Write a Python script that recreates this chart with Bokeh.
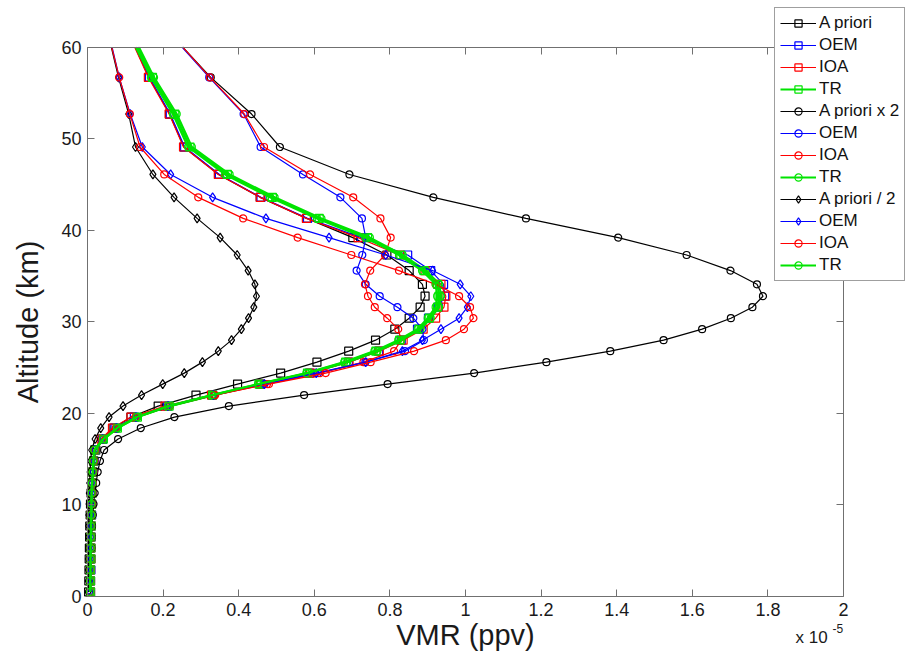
from bokeh.plotting import figure
from bokeh.models import Range1d, FixedTicker, LinearAxis, Legend, LegendItem, Label
from bokeh.embed import file_html
from bokeh.resources import INLINE

# Altitude grid (km); the last level is where the curves leave the top of the box
alt_km = [0.5, 1.7, 2.9, 4.1, 5.3, 6.5, 7.7, 8.9, 10.1, 11.3, 12.4, 13.6, 14.8, 16.0,
          17.2, 18.4, 19.6, 20.8, 22.0, 23.2, 24.4, 25.6, 26.8, 28.0, 29.2, 30.4, 31.6,
          32.8, 34.1, 35.6, 37.3, 39.2, 41.3, 43.6, 46.1, 49.1, 52.7, 56.7, 60.0]

# VMR profiles in units of 1e-5 ppv
apriori = [0.003, 0.0035, 0.004, 0.0045, 0.005, 0.0055, 0.006, 0.007, 0.008, 0.0095, 0.0115, 0.0135, 0.0165, 0.022,
           0.040, 0.070, 0.115, 0.187, 0.287, 0.397, 0.511, 0.607, 0.691, 0.762, 0.813, 0.851, 0.880,
           0.893, 0.886, 0.851, 0.792, 0.702, 0.580, 0.457, 0.347, 0.255, 0.217, 0.163, 0.126]
oem_1 = [0.008, 0.008, 0.009, 0.009, 0.009, 0.010, 0.010, 0.011, 0.011, 0.012, 0.013, 0.015, 0.017, 0.020,
         0.040, 0.073, 0.124, 0.212, 0.330, 0.457, 0.587, 0.690, 0.770, 0.830, 0.873, 0.902, 0.928,
         0.945, 0.942, 0.908, 0.847, 0.725, 0.582, 0.459, 0.349, 0.257, 0.219, 0.164, 0.127]
ioa_1 = [0.008, 0.008, 0.008, 0.009, 0.009, 0.009, 0.010, 0.010, 0.011, 0.012, 0.013, 0.014, 0.016, 0.019,
         0.036, 0.066, 0.115, 0.205, 0.328, 0.458, 0.590, 0.692, 0.772, 0.835, 0.888, 0.921, 0.943,
         0.948, 0.935, 0.893, 0.826, 0.716, 0.579, 0.457, 0.346, 0.254, 0.216, 0.161, 0.125]
tr_1 = [0.008, 0.008, 0.008, 0.009, 0.009, 0.009, 0.010, 0.010, 0.011, 0.012, 0.013, 0.014, 0.016, 0.019,
        0.042, 0.079, 0.132, 0.216, 0.331, 0.454, 0.582, 0.683, 0.763, 0.826, 0.877, 0.904, 0.926,
        0.930, 0.926, 0.890, 0.829, 0.741, 0.613, 0.489, 0.370, 0.271, 0.231, 0.172, 0.132]

apriori_x2 = [0.006, 0.007, 0.008, 0.009, 0.010, 0.011, 0.012, 0.014, 0.016, 0.019, 0.023, 0.027, 0.033, 0.044,
              0.081, 0.141, 0.230, 0.374, 0.573, 0.794, 1.023, 1.214, 1.383, 1.524, 1.626, 1.702, 1.759,
              1.787, 1.771, 1.701, 1.585, 1.404, 1.160, 0.915, 0.693, 0.509, 0.434, 0.326, 0.252]
oem_2 = [0.008, 0.008, 0.009, 0.009, 0.009, 0.010, 0.010, 0.011, 0.012, 0.013, 0.014, 0.016, 0.018, 0.021,
         0.042, 0.078, 0.130, 0.215, 0.335, 0.468, 0.610, 0.735, 0.840, 0.890, 0.886, 0.862, 0.820,
         0.773, 0.736, 0.712, 0.727, 0.736, 0.726, 0.669, 0.570, 0.458, 0.413, 0.322, 0.250]
ioa_2 = [0.008, 0.008, 0.009, 0.009, 0.009, 0.010, 0.010, 0.011, 0.012, 0.013, 0.014, 0.016, 0.018, 0.021,
         0.041, 0.077, 0.130, 0.218, 0.338, 0.475, 0.615, 0.730, 0.811, 0.830, 0.822, 0.793, 0.760,
         0.742, 0.734, 0.748, 0.787, 0.802, 0.775, 0.703, 0.589, 0.467, 0.415, 0.324, 0.252]
tr_2 = [0.008, 0.008, 0.009, 0.009, 0.009, 0.010, 0.010, 0.011, 0.011, 0.012, 0.013, 0.015, 0.017, 0.020,
        0.043, 0.080, 0.133, 0.218, 0.333, 0.457, 0.585, 0.687, 0.767, 0.830, 0.881, 0.908, 0.930,
        0.935, 0.931, 0.895, 0.834, 0.747, 0.619, 0.495, 0.376, 0.276, 0.236, 0.176, 0.136]

apriori_half = [0.0015, 0.0018, 0.002, 0.0023, 0.0025, 0.0028, 0.003, 0.0035, 0.004, 0.0048, 0.0058, 0.0068, 0.0083, 0.011,
                0.020, 0.035, 0.057, 0.094, 0.143, 0.199, 0.256, 0.304, 0.346, 0.381, 0.407, 0.426, 0.440,
                0.447, 0.443, 0.425, 0.396, 0.351, 0.290, 0.229, 0.173, 0.127, 0.109, 0.082, 0.063]
oem_3 = [0.007, 0.007, 0.008, 0.008, 0.008, 0.009, 0.009, 0.010, 0.010, 0.011, 0.012, 0.014, 0.016, 0.019,
         0.040, 0.076, 0.128, 0.213, 0.333, 0.468, 0.605, 0.736, 0.833, 0.886, 0.935, 0.983, 1.005,
         1.014, 0.986, 0.913, 0.789, 0.639, 0.472, 0.331, 0.220, 0.145, 0.113, 0.084, 0.065]
ioa_3 = [0.007, 0.007, 0.008, 0.008, 0.008, 0.009, 0.009, 0.010, 0.010, 0.011, 0.012, 0.014, 0.016, 0.019,
         0.039, 0.075, 0.127, 0.214, 0.336, 0.480, 0.630, 0.749, 0.864, 0.948, 0.996, 1.021, 1.012,
         0.983, 0.921, 0.824, 0.698, 0.556, 0.412, 0.293, 0.203, 0.139, 0.112, 0.084, 0.064]
tr_3 = [0.007, 0.007, 0.008, 0.008, 0.008, 0.009, 0.009, 0.010, 0.010, 0.011, 0.012, 0.014, 0.015, 0.018,
        0.041, 0.078, 0.130, 0.214, 0.329, 0.451, 0.579, 0.679, 0.759, 0.822, 0.873, 0.900, 0.921,
        0.925, 0.921, 0.885, 0.824, 0.735, 0.607, 0.483, 0.364, 0.266, 0.226, 0.168, 0.128]

labels = ["A priori", "OEM", "IOA", "TR",
          "A priori x 2", "OEM", "IOA", "TR",
          "A priori / 2", "OEM", "IOA", "TR"]
profiles = [apriori, oem_1, ioa_1, tr_1,
            apriori_x2, oem_2, ioa_2, tr_2,
            apriori_half, oem_3, ioa_3, tr_3]

x_ticks = [0, 0.2, 0.4, 0.6, 0.8, 1, 1.2, 1.4, 1.6, 1.8, 2]
x_tick_labels = ["0", "0.2", "0.4", "0.6", "0.8", "1", "1.2", "1.4", "1.6", "1.8", "2"]
y_ticks = [0, 10, 20, 30, 40, 50, 60]

FONT = "Liberation Sans"
AX = "#707070"
TXT = "#1a1a1a"
BLACK, BLUE, RED, GREEN = "#000000", "#0000ff", "#ff0000", "#00e400"
colors = [BLACK, BLUE, RED, GREEN] * 3
markers = ["square"] * 4 + ["circle"] * 4 + ["diamond", "diamond", "circle", "circle"]
msizes = [8] * 4 + [7] * 4 + [9, 9, 7, 7]
lwidths = [1.2, 1.2, 1.2, 2.2] * 3

# layout: the frame fills the whole canvas; the axes box is placed with fixed_location
W, H = 907, 659
BOX_L, BOX_R, BOX_T, BOX_B = 87, 843, 46.7, 596   # box edges in canvas px
xs = (BOX_R - BOX_L) / 2.0
ys = (BOX_B - BOX_T) / 60.0
x_range = Range1d(-BOX_L / xs, 2 + (W - BOX_R) / xs)
y_range = Range1d(-(H - BOX_B) / ys, 60 + BOX_T / ys)

p = figure(width=W, height=H, output_backend="svg", toolbar_location=None,
           x_range=x_range, y_range=y_range, min_border=0,
           min_border_left=0, min_border_right=0, min_border_top=0, min_border_bottom=0)
p.xgrid.visible = False
p.ygrid.visible = False
p.outline_line_color = None
p.background_fill_color = "white"
p.border_fill_color = "white"

xa = p.xaxis[0]
ya = p.yaxis[0]
xa.ticker = FixedTicker(ticks=x_ticks)
ya.ticker = FixedTicker(ticks=y_ticks)
xa.fixed_location = 0
ya.fixed_location = 0
xa.bounds = (0, 2)
ya.bounds = (0, 60)
for ax in (xa, ya):
    ax.major_tick_in = 7
    ax.major_tick_out = 0
    ax.minor_tick_in = 0
    ax.minor_tick_out = 0
    ax.axis_line_color = AX
    ax.major_tick_line_color = AX
    ax.major_label_text_font = FONT
    ax.major_label_text_font_size = "18px"
    ax.major_label_text_color = TXT
    ax.axis_label_text_font = FONT
    ax.axis_label_text_font_size = "29px"
    ax.axis_label_text_font_style = "normal"
    ax.axis_label_text_color = TXT
xa.major_label_overrides = dict(zip(x_ticks, x_tick_labels))
xa.major_label_standoff = 6
ya.major_label_standoff = 6
xa.axis_label = "VMR (ppv)"
ya.axis_label = "Altitude (km)"
xa.axis_label_standoff = 0
ya.axis_label_standoff = 14

# mirrored tick marks on the top and right edges of the box (labels hidden)
for loc, ticks, fl, bnd in (("above", x_ticks, 60, (0, 2)), ("right", y_ticks, 2, (0, 60))):
    a = LinearAxis(ticker=FixedTicker(ticks=ticks), major_tick_in=7, major_tick_out=0,
                   minor_tick_in=0, minor_tick_out=0, axis_line_color=AX, major_tick_line_color=AX,
                   major_label_overrides={t: "" for t in ticks}, major_label_standoff=0,
                   major_label_text_color=None, fixed_location=fl, bounds=bnd)
    p.add_layout(a, loc)

items = []
for name, vals, c, m, s, w in zip(labels, profiles, colors, markers, msizes, lwidths):
    rl = p.line(vals, alt_km, line_color=c, line_width=w)
    rs = p.scatter(vals[:-1], alt_km[:-1], marker=m, size=s, line_color=c, fill_color=None, line_width=1.2)
    items.append(LegendItem(label=name, renderers=[rl, rs]))

legend = Legend(items=items, location=(774, 378), orientation="vertical",
                label_text_font=FONT, label_text_font_size="17px", label_text_color="#111111",
                glyph_width=36, glyph_height=18, label_height=18, spacing=2, padding=5, margin=0,
                label_standoff=3, border_line_color="#404040", border_line_width=1,
                background_fill_color="white", background_fill_alpha=1.0)
p.add_layout(legend, "center")

p.add_layout(Label(x=795, y=22, x_units="screen", y_units="screen", text="x 10",
                   text_font=FONT, text_font_size="17px", text_color=TXT, text_baseline="alphabetic"))
p.add_layout(Label(x=832, y=31, x_units="screen", y_units="screen", text="-5",
                   text_font=FONT, text_font_size="12px", text_color=TXT, text_baseline="alphabetic"))

open("out.html", "w").write(file_html(p, INLINE))
